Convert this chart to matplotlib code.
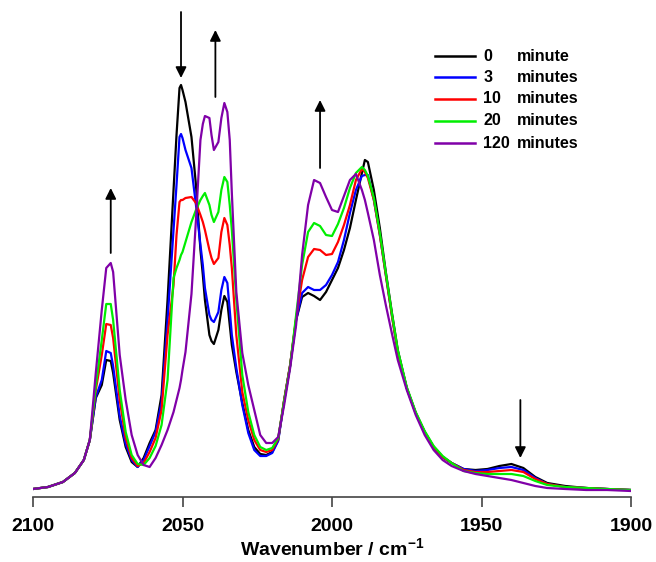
import numpy as np
import matplotlib
matplotlib.use("Agg")
import matplotlib.pyplot as plt

plt.rcParams['font.family'] = ['Liberation Sans', 'DejaVu Sans']
plt.rcParams['font.weight'] = 'bold'
plt.rcParams['mathtext.fontset'] = 'custom'
plt.rcParams['mathtext.rm'] = 'Liberation Sans:bold'
plt.rcParams['mathtext.bf'] = 'Liberation Sans:bold'

# wavenumber grid (cm-1)
wn = [2100, 2095, 2090, 2086, 2083, 2081, 2079, 2077, 2075.5, 2074,
      2073.2, 2071, 2069, 2067, 2065, 2063, 2061, 2059, 2057, 2055,
      2053, 2052, 2051, 2050.5, 2050, 2049, 2047, 2045.5, 2044, 2043.2,
      2042.5, 2041, 2040.3, 2039.5, 2038, 2037, 2036, 2035, 2034.2, 2033.5,
      2032, 2030, 2028, 2026, 2024, 2022, 2020, 2018, 2016, 2014,
      2012, 2010, 2008, 2006, 2004, 2002, 2000, 1998, 1996, 1994,
      1992, 1990, 1989, 1988, 1986, 1984, 1982, 1980, 1978, 1975,
      1972, 1969, 1966, 1963, 1960, 1956, 1952, 1948, 1944, 1940,
      1936, 1932, 1928, 1922, 1915, 1908, 1900]

# absorbance, arbitrary units
a_0 = [1, 3, 8, 17, 30, 50, 92, 105, 130, 129,
       117, 70, 43, 28, 23, 32, 47, 60, 95, 190,
       300, 355, 402, 405, 400, 388, 353, 305, 240, 215,
       190, 155, 149, 146, 160, 180, 194, 188, 165, 145,
       118, 87, 60, 43, 36, 35, 38, 50, 90, 125,
       170, 193, 197, 194, 190, 198, 210, 222, 240, 262,
       290, 317, 330, 328, 300, 262, 218, 178, 140, 102,
       77, 58, 43, 33, 27, 21, 20, 21, 24, 26,
       22, 13, 7, 4, 2, 1, 0]
a_3 = [1, 3, 8, 17, 30, 50, 93, 110, 139, 137,
       124, 74, 46, 30, 23, 30, 44, 58, 88, 170,
       260, 305, 353, 356, 352, 340, 322, 285, 245, 225,
       202, 175, 170, 168, 178, 200, 213, 207, 180, 155,
       122, 85, 57, 40, 34, 34, 37, 49, 89, 124,
       170, 197, 203, 200, 200, 205, 215, 228, 250, 277,
       300, 314, 315, 315, 290, 255, 215, 175, 138, 102,
       77, 58, 43, 33, 27, 21, 19, 20, 22, 23,
       20, 12, 6, 3, 2, 1, 0]
a_10 = [1, 3, 8, 17, 30, 50, 100, 135, 166, 165,
        152, 90, 52, 32, 24, 27, 38, 52, 80, 155,
        205, 255, 288, 290, 290, 292, 293, 287, 275, 268,
        260, 240, 232, 226, 232, 258, 272, 265, 245, 222,
        155, 98, 70, 50, 40, 38, 40, 51, 90, 125,
        172, 210, 233, 241, 240, 235, 236, 248, 265, 285,
        310, 321, 318, 312, 290, 255, 215, 175, 138, 102,
        77, 58, 43, 33, 27, 20, 18, 18, 19, 20,
        18, 11, 6, 3, 2, 1, 0]
a_20 = [1, 3, 8, 17, 30, 50, 104, 150, 186, 186,
        170, 100, 58, 35, 26, 25, 32, 44, 65, 110,
        212, 222, 230, 235, 238, 248, 268, 280, 290, 294,
        297, 285, 275, 268, 278, 300, 313, 308, 285, 260,
        190, 115, 78, 55, 43, 40, 42, 52, 89, 124,
        175, 225, 258, 267, 264, 255, 254, 266, 282, 302,
        317, 323, 320, 314, 292, 257, 217, 177, 140, 103,
        78, 59, 44, 34, 27, 19, 17, 16, 16, 16,
        14, 9, 5, 3, 2, 1, 0]
a_120 = [1, 3, 8, 17, 30, 50, 117, 180, 222, 227,
         218, 135, 90, 55, 35, 25, 23, 32, 45, 60,
         78, 90, 102, 110, 120, 138, 196, 270, 350, 366,
         374, 372, 355, 340, 348, 372, 387, 378, 350, 297,
         198, 137, 105, 80, 55, 47, 47, 53, 85, 122,
         165, 235, 285, 310, 307, 293, 280, 278, 294, 310,
         316, 300, 290, 277, 250, 215, 185, 157, 130, 100,
         75, 55, 40, 30, 24, 19, 16, 14, 12, 10,
         7, 4, 2, 1, 0, 0, -1]

series = [a_0, a_3, a_10, a_20, a_120]
numbers = ['0', '3', '10', '20', '120']
words = ['minute', 'minutes', 'minutes', 'minutes', 'minutes']
colors = ['black', '#0000ff', '#ff0000', '#00ee00', '#8000a8']

# arrows: (wavenumber, tail, head)
arrows = [(2074, 237, 302), (2050.5, 478, 412), (2039, 393, 460),
          (2004, 322, 390), (1937, 90, 32)]

fig = plt.figure(figsize=(6.56, 5.62), dpi=100)
ax = fig.add_axes([33/656, 65/562, 598/656, 497/562])

for s, c in zip(series, colors):
    ax.plot(wn, s, color=c, lw=1.6, solid_joinstyle='round')

for x, t, h in arrows:
    ax.annotate('', xy=(x, h), xytext=(x, t),
                arrowprops=dict(arrowstyle='-|>', color='black', lw=1.3,
                                mutation_scale=16, shrinkA=0, shrinkB=0),
                annotation_clip=False)

# legend
rows = [0.887, 0.845, 0.801, 0.757, 0.712]
for yy, c, n, w in zip(rows, colors, numbers, words):
    ax.plot([0.672, 0.739], [yy, yy], color=c, lw=1.8, transform=ax.transAxes)
    ax.text(0.753, yy, n, transform=ax.transAxes, va='center', ha='left',
            fontsize=11.5, fontweight='bold')
    ax.text(0.809, yy, w, transform=ax.transAxes, va='center', ha='left',
            fontsize=11.5, fontweight='bold')

ax.set_xlim(2100, 1900)
ax.set_ylim(-7, 490)
ax.set_xticks([2100, 2050, 2000, 1950, 1900])
ax.set_xticklabels(['2100', '2050', '2000', '1950', '1900'], fontsize=14, fontweight='bold')
ax.set_yticks([])
for sp in ['left', 'right', 'top']:
    ax.spines[sp].set_visible(False)
ax.spines['bottom'].set_color('#444444')
ax.spines['bottom'].set_linewidth(1.2)
ax.tick_params(axis='x', direction='out', length=7, width=1.2, color='#444444', pad=8)
ax.set_xlabel('Wavenumber / cm$^{\\mathrm{-1}}$', fontsize=14, fontweight='bold', labelpad=2)

fig.savefig('out.png', dpi=100)
